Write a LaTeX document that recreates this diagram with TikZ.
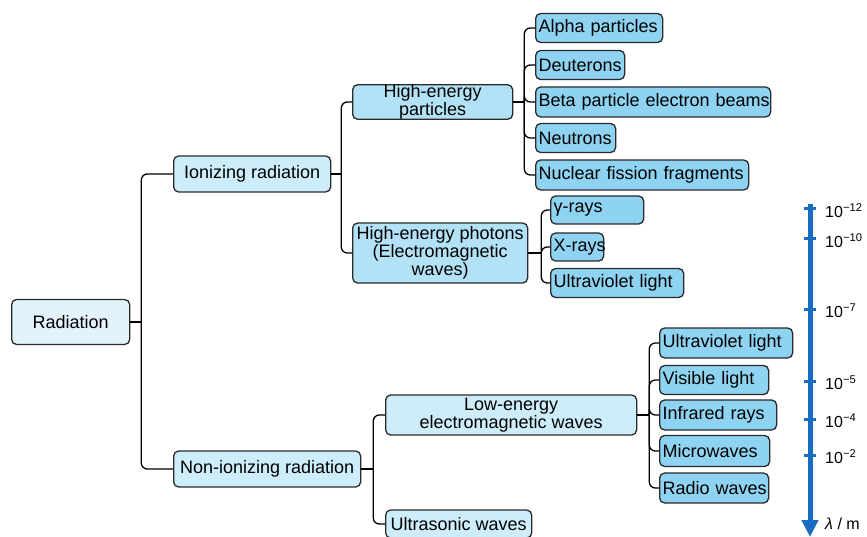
\documentclass[tikz,border=0pt]{standalone}
\usepackage{fontspec}
\setmainfont{Liberation Sans}
\usetikzlibrary{arrows.meta,positioning}
\definecolor{rootfill}{HTML}{E2F3FC}
\definecolor{midfill}{HTML}{CDEDFA}
\definecolor{subfill}{HTML}{B3E2F7}
\definecolor{leaffill}{HTML}{8ED3F1}
\definecolor{boxline}{HTML}{2A2A2A}
\definecolor{axisblue}{HTML}{1A6CC0}

\begin{document}
\begin{tikzpicture}[x=1pt, y=-1pt,
  box/.style={draw=boxline, line width=1.3pt, rounded corners=5pt, inner sep=0pt,
              anchor=west, font=\fontsize{18}{14}\selectfont, align=center},
  root/.style={box, fill=rootfill},
  mid/.style={box, fill=midfill},
  sub/.style={box, fill=subfill},
  leaf/.style={box, fill=leaffill, align=left, inner xsep=3pt},
  link/.style={line width=1.3pt, rounded corners=6pt},
  axis/.style={line width=5pt, axisblue, -{Triangle[width=16pt,length=17pt]}},
  tickmark/.style={line width=3pt, axisblue},
  lbl/.style={anchor=west, inner sep=0pt, font=\fontsize{16}{16}\selectfont}
]
  \useasboundingbox (0,0) rectangle (867,537);

  % tree
  \node[root, minimum width=118pt, minimum height=45pt] (rad) at (11,322) {Radiation};
  \node[mid, minimum width=157pt, minimum height=36pt] (ion) at (173,174) {Ionizing radiation};
  \node[mid, minimum width=187pt, minimum height=36pt] (non) at (173,469) {Non-ionizing radiation};
  \node[sub, minimum width=160pt, minimum height=30pt] (hep) at (352,102) {High-energy\\particles};
  \node[sub, minimum width=175pt, minimum height=60pt, font=\fontsize{18}{16}\selectfont] (hph) at (352,253)
    {High-energy photons\\(Electromagnetic\\waves)};
  \node[mid, minimum width=251pt, minimum height=40pt, font=\fontsize{18}{15}\selectfont] (lew) at (385,415)
    {Low-energy\\electromagnetic waves};
  \node[mid, minimum width=146pt, minimum height=28pt] (ult) at (385,524) {Ultrasonic waves};

  \node[leaf, text width=121pt, minimum height=29pt] (alpha) at (535,28) {\mbox{Alpha particles}};
  \node[leaf, text width=83pt, minimum height=29pt] (deut) at (535,65) {\mbox{Deuterons}};
  \node[leaf, text width=229pt, minimum height=30pt] (beta) at (535,102) {\mbox{Beta particle electron beams}};
  \node[leaf, text width=74pt, minimum height=29pt] (neut) at (535,138) {\mbox{Neutrons}};
  \node[leaf, text width=207pt, minimum height=30pt] (nucl) at (535,175) {\mbox{Nuclear fission fragments}};

  \node[leaf, text width=87pt, minimum height=28pt] (gam) at (550,210) {\mbox{γ-rays}};
  \node[leaf, text width=47pt, minimum height=28pt] (xray) at (550,247) {\mbox{X-rays}};
  \node[leaf, text width=127pt, minimum height=29pt] (uva) at (550,283) {\mbox{Ultraviolet light}};

  \node[leaf, text width=127pt, minimum height=30pt] (uvb) at (659,343) {\mbox{Ultraviolet light}};
  \node[leaf, text width=103pt, minimum height=29pt] (vis) at (659,380) {\mbox{Visible light}};
  \node[leaf, text width=111pt, minimum height=30pt] (ir) at (659,415) {\mbox{Infrared rays}};
  \node[leaf, text width=104pt, minimum height=31pt] (mw) at (659,451) {\mbox{Microwaves}};
  \node[leaf, text width=103pt, minimum height=30pt] (rw) at (659,488) {\mbox{Radio waves}};

  % connectors
  \draw[link] (rad.east) -- ++(11,0) coordinate (j0);
  \foreach \c in {ion,non} \draw[link] (j0) |- (\c.west);
  \draw[link] (ion.east) -- ++(10,0) coordinate (j1);
  \foreach \c in {hep,hph} \draw[link] (j1) |- (\c.west);
  \draw[link] (hep.east) -- ++(11,0) coordinate (j2);
  \foreach \c in {alpha,deut,beta,neut,nucl} \draw[link] (j2) |- (\c.west);
  \draw[link] (hph.east) -- ++(13,0) coordinate (j3);
  \foreach \c in {gam,xray,uva} \draw[link] (j3) |- (\c.west);
  \draw[link] (non.east) -- ++(12,0) coordinate (j4);
  \foreach \c in {lew,ult} \draw[link] (j4) |- (\c.west);
  \draw[link] (lew.east) -- ++(12,0) coordinate (j5);
  \foreach \c in {uvb,vis,ir,mw,rw} \draw[link] (j5) |- (\c.west);

  % wavelength scale
  \coordinate (atop) at (810,204);
  \coordinate (abot) at (810,537);
  \draw[axis] (atop) -- (abot);
  \foreach \y/\e in {209/12, 239/10, 309/7, 381/5, 419/4, 455/2}{
    \draw[tickmark] (804,\y) -- (816,\y);
    \node[lbl] (e\e) at (825,\y+2) {10\textsuperscript{−\e}};
  }
  \node[lbl] (unit) at (825,524) {\textit{λ} / m};
\end{tikzpicture}
\end{document}
